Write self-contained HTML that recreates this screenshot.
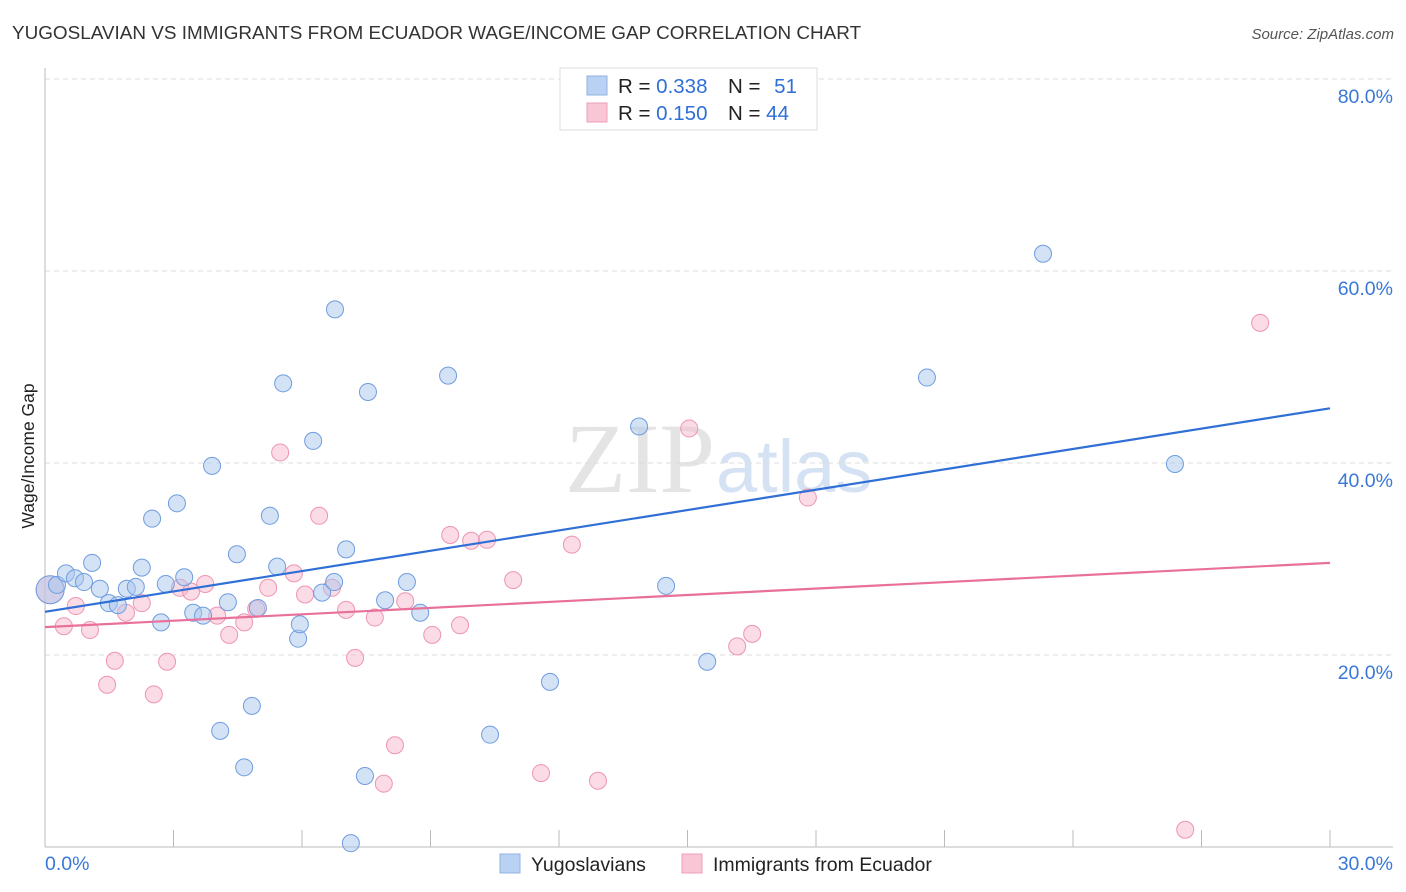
<!DOCTYPE html>
<html><head><meta charset="utf-8">
<style>
body{margin:0;background:#fff;font-family:"Liberation Sans",sans-serif;}
#wrap{position:relative;width:1406px;height:892px;overflow:hidden;}
</style></head>
<body>
<div id="wrap">
<svg id="chart" width="1406" height="892">
  <text x="12" y="39" font-size="18.9" fill="#333">YUGOSLAVIAN VS IMMIGRANTS FROM ECUADOR WAGE/INCOME GAP CORRELATION CHART</text>
  <text x="1394" y="39" font-size="15" fill="#555" font-style="italic" text-anchor="end">Source: ZipAtlas.com</text>
  <text x="715" y="492" font-size="100" fill="#e4e4e4" text-anchor="end" font-family="Liberation Serif,serif">ZIP</text>
  <text x="716" y="492" font-size="74" fill="#d5e2f4" font-family="Liberation Sans,sans-serif">atlas</text>
  <text transform="translate(34,456) rotate(-90)" font-size="17.5" fill="#222" text-anchor="middle">Wage/Income Gap</text>
  <g id="grid"></g><g id="axes"></g><g id="pts"></g><g id="lines"></g>
  <g>
    <rect x="560" y="68" width="257" height="62" fill="#fff" stroke="#ddd"/>
    <rect x="587" y="76" width="20" height="19" fill="#b9d1f2" stroke="#8fb2e2"/>
    <rect x="587" y="103" width="20" height="19" fill="#f9c6d5" stroke="#ee9fb8"/>
    <text x="618" y="93" font-size="20.5" fill="#222">R = <tspan fill="#2f6fd6">0.338</tspan></text>
    <text x="728" y="93" font-size="20.5" fill="#222">N = <tspan fill="#2f6fd6" dx="8">51</tspan></text>
    <text x="618" y="120" font-size="20.5" fill="#222">R = <tspan fill="#2f6fd6">0.150</tspan></text>
    <text x="728" y="120" font-size="20.5" fill="#222">N = <tspan fill="#2f6fd6">44</tspan></text>
  </g>
  <g>
    <rect x="500" y="854" width="20" height="19" fill="#b9d1f2" stroke="#8fb2e2"/>
    <text x="531" y="871" font-size="19.5" fill="#222">Yugoslavians</text>
    <rect x="682" y="854" width="20" height="19" fill="#f9c6d5" stroke="#ee9fb8"/>
    <text x="713" y="871" font-size="19.5" fill="#222">Immigrants from Ecuador</text>
  </g>
</svg>
</div>
<script>
const blueX=[0.12,0.28,0.49,0.70,0.91,1.10,1.28,1.49,1.70,1.91,2.12,2.26,2.50,2.71,2.82,3.08,3.25,3.46,3.69,3.90,4.09,4.27,4.48,4.65,4.83,4.97,5.25,5.42,5.56,5.91,5.95,6.26,6.47,6.75,6.77,7.03,7.14,7.47,7.54,7.94,8.45,8.76,9.41,10.39,11.79,13.87,14.50,15.46,20.59,23.30,26.38];
const blueY=[26.8,27.3,28.5,28.0,27.6,29.6,26.9,25.4,25.2,26.9,27.1,29.1,34.2,23.4,27.4,35.8,28.1,24.4,24.1,39.7,12.1,25.5,30.5,8.3,14.7,24.9,34.5,29.2,48.3,21.7,23.2,42.3,26.5,27.6,56.0,31.0,0.4,7.4,47.4,25.7,27.6,24.4,49.1,11.7,17.2,43.8,27.2,19.3,48.9,61.8,39.9];
const pinkX=[0.12,0.44,0.72,1.05,1.45,1.63,1.89,2.26,2.54,2.85,3.15,3.41,3.74,4.02,4.30,4.65,4.93,5.21,5.49,5.81,6.07,6.40,6.70,7.03,7.24,7.70,7.91,8.17,8.41,9.04,9.46,9.69,9.95,10.32,10.93,11.58,12.30,12.91,15.04,16.16,16.51,17.81,26.62,28.37];
const pinkY=[26.8,23.0,25.1,22.6,16.9,19.4,24.4,25.4,15.9,19.3,27.0,26.6,27.4,24.1,22.1,23.4,24.8,27.0,41.1,28.5,26.3,34.5,27.0,24.7,19.7,23.9,6.6,10.6,25.6,22.1,32.5,23.1,31.9,32.0,27.8,7.7,31.5,6.9,43.6,20.9,22.2,36.4,1.8,54.6];
const blueTrend=[24.5,45.7];
const pinkTrend=[22.9,29.6];
const yTicks=[20,40,60,80];
const xTickLabels=["0.0%","30.0%"];
const xTickCount=10;

const NS="http://www.w3.org/2000/svg";
const X=v=>45+v*(1285/30);
const Y=v=>847-v*9.6;
function mk(tag,attrs,parent){const e=document.createElementNS(NS,tag);for(const k in attrs)e.setAttribute(k,attrs[k]);parent.appendChild(e);return e;}
const grid=document.getElementById('grid'),axes=document.getElementById('axes'),pts=document.getElementById('pts'),lines=document.getElementById('lines');
yTicks.forEach(t=>{
  const l=mk('line',{x1:45,x2:1393,y1:Y(t),y2:Y(t),stroke:'#ddd','stroke-dasharray':'5,4'},grid);
  
  
  const tx=mk('text',{x:1393,y:Y(t)+24,'font-size':19.5,fill:'#3a78d8','text-anchor':'end'},grid);
  tx.textContent=t.toFixed(1)+'%';
  
  
});
const ya=mk('line',{x1:45,x2:45,y1:68,y2:847,stroke:'#bbb'},axes);


const xa=mk('line',{x1:45,x2:1393,y1:847,y2:847,stroke:'#bbb'},axes);


for(let i=1;i<=xTickCount;i++){
  const t=mk('line',{x1:X(i*3),x2:X(i*3),y1:830,y2:847,stroke:'#bbb'},axes);
  
  
}
const xl0=mk('text',{x:45,y:870,'font-size':19.5,fill:'#3a78d8'},axes);
xl0.textContent=xTickLabels[0];


const xl1=mk('text',{x:1393,y:870,'font-size':19.5,fill:'#3a78d8','text-anchor':'end'},axes);
xl1.textContent=xTickLabels[1];



function dots(xs,ys,fill,stroke,name){
  xs.forEach((x,i)=>{
    const r=i===0?14:8.5;
    const c=mk('circle',{cx:X(x),cy:Y(ys[i]),r:r,fill:fill,'fill-opacity':0.5,stroke:stroke,'stroke-width':1},pts);
    
    
  });
}
dots(pinkX,pinkY,'#f7b8cb','#ee95b2','point-ecuador');
dots(blueX,blueY,'#a9c6ee','#6e9ddf','point-yugoslavian');
const bl=mk('line',{x1:X(0),y1:Y(blueTrend[0]),x2:X(30),y2:Y(blueTrend[1]),stroke:'#2f6fd6','stroke-width':2.2},lines);


const pl=mk('line',{x1:X(0),y1:Y(pinkTrend[0]),x2:X(30),y2:Y(pinkTrend[1]),stroke:'#e8709a','stroke-width':2.2},lines);


</script>
</body></html>
